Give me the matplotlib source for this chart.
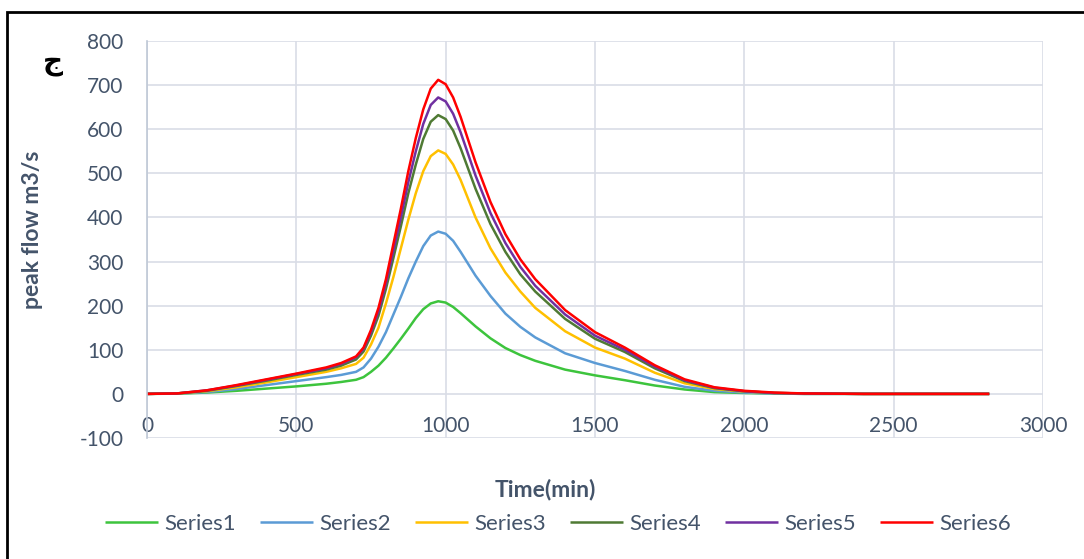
import matplotlib
matplotlib.use("Agg")
import matplotlib.pyplot as plt
from matplotlib.patches import Rectangle

# time (min) and peak flow (m3/s)
time_min = [0, 100, 200, 300, 400, 500, 600, 650, 700, 725,
            750, 775, 800, 825, 850, 875, 900, 925, 950, 975,
            1000, 1025, 1050, 1100, 1150, 1200, 1250, 1300, 1400, 1500,
            1600, 1700, 1800, 1900, 2000, 2100, 2200, 2400, 2600, 2820]

series1 = [0, 0.5, 3, 7, 12, 17, 23, 27, 32, 38,
           50, 64, 82, 103, 125, 148, 172, 192, 205, 210,
           207, 197, 183, 153, 126, 104, 88, 75, 55, 42,
           31, 19, 10, 4, 2, 1, 0, 0, 0, 0]
series2 = [0, 1, 4, 11, 20, 29, 38, 43, 50, 60,
           80, 107, 140, 180, 220, 262, 300, 335, 359, 368,
           363, 347, 322, 268, 222, 182, 152, 128, 92, 70,
           52, 32, 16, 7, 3, 1, 0, 0, 0, 0]
series3 = [0, 1, 6, 15, 26, 38, 50, 58, 68, 82,
           112, 150, 205, 265, 330, 395, 455, 505, 539, 552,
           544, 520, 485, 400, 330, 275, 232, 195, 142, 105,
           80, 48, 24, 11, 5, 2, 1, 0, 0, 0]
series4 = [0, 1, 7, 18, 30, 43, 55, 64, 78, 96,
           132, 177, 238, 308, 380, 455, 520, 578, 617, 632,
           623, 597, 557, 465, 385, 322, 271, 232, 170, 125,
           95, 58, 29, 13, 6, 2, 1, 0, 0, 0]
series5 = [0, 1, 8, 19, 32, 45, 58, 68, 83, 102,
           140, 187, 250, 325, 400, 480, 550, 612, 655, 672,
           663, 635, 593, 495, 410, 342, 288, 245, 180, 132,
           100, 62, 31, 14, 6, 2, 1, 0, 0, 0]
series6 = [0, 1, 8, 20, 33, 46, 60, 70, 85, 105,
           145, 195, 260, 340, 420, 505, 580, 645, 692, 712,
           702, 672, 628, 525, 435, 362, 305, 260, 190, 140,
           105, 65, 33, 15, 7, 3, 1, 0, 0, 0]

names = ["Series1", "Series2", "Series3", "Series4", "Series5", "Series6"]
colors = ["#3DC43D", "#5B9BD5", "#FFC000", "#4F7A34", "#7030A0", "#FF0000"]

x_ticks = [0, 500, 1000, 1500, 2000, 2500, 3000]
y_ticks = [-100, 0, 100, 200, 300, 400, 500, 600, 700, 800]

text_col = "#44546A"
grid_col = "#D9DDE6"

plt.rcParams["font.family"] = ["Lato", "DejaVu Sans"]
plt.rcParams["axes.unicode_minus"] = False

fig = plt.figure(figsize=(10.84, 5.59), dpi=100)
ax = fig.add_axes([147 / 1084, 1 - 438 / 559, 896 / 1084, 397 / 559])

for ys, name, c in zip([series1, series2, series3, series4, series5, series6], names, colors):
    ax.plot(time_min, ys, color=c, lw=1.8, label=name,
            solid_joinstyle="round", solid_capstyle="butt")

ax.set_xlim(0, 3000)
ax.set_ylim(-100, 800)
ax.set_xticks(x_ticks)
ax.set_yticks(y_ticks)
ax.grid(True, color=grid_col, lw=1.2)
ax.set_axisbelow(True)

for side in ["top", "right"]:
    ax.spines[side].set_visible(False)
ax.spines["bottom"].set_position(("data", 0))
ax.spines["bottom"].set_visible(False)
ax.spines["left"].set_color("#BFC8D6")
ax.spines["left"].set_linewidth(1.2)

ax.tick_params(axis="x", length=0, pad=16, labelsize=15, labelcolor=text_col)
ax.tick_params(axis="y", length=0, pad=17, labelsize=15, labelcolor=text_col)

fig.text(545 / 1084, 1 - 490 / 559, "Time(min)", ha="center", va="center",
         fontsize=16.5, fontweight="bold", color=text_col)
fig.text(33 / 1084, 1 - 230 / 559, "peak flow m3/s", ha="center", va="center",
         rotation=90, fontsize=16.5, fontweight="bold", color=text_col)
fig.text(53 / 1084, 1 - 62 / 559, "ج", ha="center", va="center",
         fontsize=20, fontweight="bold", color="black", family=["DejaVu Sans"])

leg = fig.legend(loc="center", bbox_to_anchor=(558 / 1084, 1 - 524 / 559), ncol=6,
                 frameon=False, fontsize=16, handlelength=2.4, columnspacing=1.05,
                 handletextpad=0.3)
for t in leg.get_texts():
    t.set_color(text_col)

fig.patches.append(Rectangle((7 / 1084, -0.1), 1.2, 1 - 12 / 559 + 0.1,
                             transform=fig.transFigure, fill=False,
                             edgecolor="black", lw=2))

fig.savefig("out.png", dpi=100)
